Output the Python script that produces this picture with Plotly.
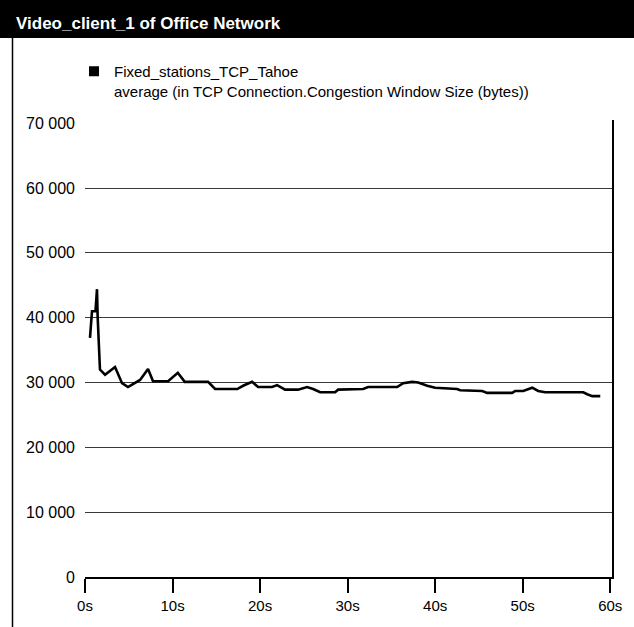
import plotly.graph_objects as go

# ---- data ----
time_s = [0.57, 0.8, 1.2, 1.37, 1.45, 1.6, 1.71, 2.29, 3.43, 4.23, 4.91, 6.29, 7.2, 7.77,
          9.49, 10.6, 11.4, 14.06, 14.86, 17.4, 18.06, 19.09, 19.77, 21.37, 21.94, 22.86,
          24.34, 25.37, 26.06, 26.86, 28.57, 28.91, 31.77, 32.34, 35.66, 36.34, 37.37,
          38.06, 39.09, 40.0, 42.51, 42.86, 45.37, 45.94, 48.8, 49.14, 50.06, 51.09,
          51.77, 52.57, 56.91, 57.37, 57.94, 58.86]
cwnd_bytes = [36900, 41000, 41000, 44400, 40000, 36000, 32000, 31200, 32400, 29900, 29300,
              30400, 32100, 30200, 30200, 31500, 30100, 30100, 29000, 29000, 29500, 30100,
              29300, 29300, 29600, 28900, 28900, 29300, 29000, 28500, 28500, 28900, 29000,
              29300, 29300, 29900, 30100, 30000, 29500, 29200, 29000, 28800, 28700, 28400,
              28400, 28700, 28700, 29200, 28700, 28500, 28500, 28200, 27900, 27900]

x_tick_vals = [0, 10, 20, 30, 40, 50, 60]
x_tick_text = ["0s", "10s", "20s", "30s", "40s", "50s", "60s"]
y_tick_vals = [0, 10000, 20000, 30000, 40000, 50000, 60000, 70000]
y_tick_text = ["0", "10 000", "20 000", "30 000", "40 000", "50 000", "60 000", "70 000"]
grid_vals = [10000, 20000, 30000, 40000, 50000, 60000]

title_text = "Video_client_1 of Office Network"
series_name = "Fixed_stations_TCP_Tahoe<br>average (in TCP Connection.Congestion Window Size (bytes))"

W, H = 634, 627
ML, MR, MT, MB = 85, 22, 120, 50
PW, PH = W - ML - MR, H - MT - MB

def px_x(p):
    return (p - ML) / PW

def px_y(p):
    return (H - MB - p) / PH

FONT = "Liberation Sans, Arial, sans-serif"

fig = go.Figure()
fig.add_trace(go.Scatter(x=time_s, y=cwnd_bytes, mode="lines",
                         line=dict(color="#000000", width=2.6),
                         showlegend=False, hoverinfo="x+y"))
fig.add_trace(go.Scatter(x=[None], y=[None], mode="markers", yaxis="y2",
                         marker=dict(symbol="square", size=10, color="#000000"),
                         name=series_name, showlegend=True))

fig.update_layout(
    width=W, height=H,
    margin=dict(l=ML, r=MR, t=MT, b=MB, autoexpand=False),
    paper_bgcolor="#ffffff", plot_bgcolor="#ffffff",
    font=dict(family=FONT, size=15, color="#000000"),
    title=dict(text="<b>" + title_text + "</b>", x=16 / W, xref="container", xanchor="left",
               y=1 - 23 / H, yref="container", yanchor="middle",
               font=dict(family=FONT, size=17, color="#ffffff")),
    showlegend=True,
    legend=dict(x=74 / W, xref="container", xanchor="left",
                y=1 - 55 / H, yref="container", yanchor="top",
                valign="top", bgcolor="rgba(0,0,0,0)",
                font=dict(family=FONT, size=15, color="#000000")),
    xaxis=dict(range=[0, 60.2], tickvals=x_tick_vals, ticktext=x_tick_text,
               showgrid=False, zeroline=False, showline=True, linecolor="#000000",
               linewidth=2, ticks="outside", ticklen=14, tickwidth=1.5, tickcolor="#000000",
               tickfont=dict(family=FONT, size=15)),
    yaxis=dict(range=[0, 70500], tickvals=y_tick_vals, ticktext=y_tick_text,
               showgrid=False, zeroline=False, showline=False, ticks="",
               ticklabelstandoff=9, tickfont=dict(family=FONT, size=16)),
    yaxis2=dict(range=[0, 70500], overlaying="y", side="right", tickvals=grid_vals,
                showticklabels=False, showgrid=True, gridcolor="#3a3a3a", gridwidth=1.3,
                zeroline=False, showline=True, linecolor="#000000", linewidth=2, ticks=""),
    shapes=[
        dict(type="rect", xref="paper", yref="paper", x0=px_x(0), x1=px_x(W),
             y0=px_y(38), y1=px_y(0), fillcolor="#000000", line=dict(width=0), layer="below"),
        dict(type="line", xref="paper", yref="paper", x0=px_x(12.5), x1=px_x(12.5),
             y0=px_y(38), y1=px_y(H), line=dict(color="#000000", width=1.5)),
    ],
)

fig.write_html("out.html", config={"displayModeBar": False},
               post_script="document.body.style.margin='0px';document.body.style.overflow='hidden';")
